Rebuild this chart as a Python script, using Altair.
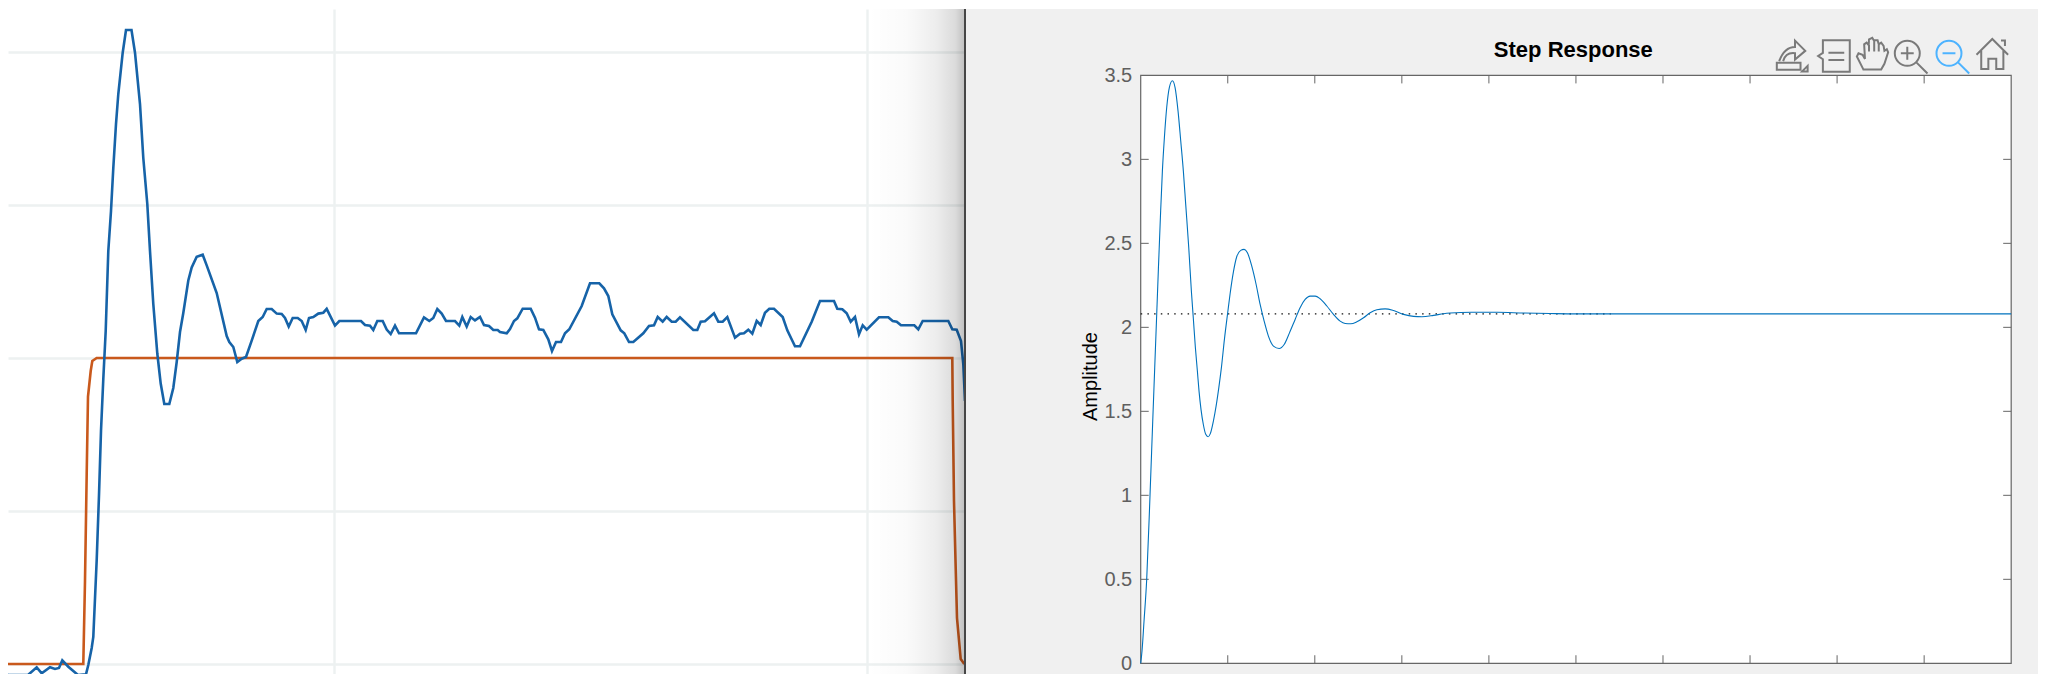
import altair as alt
import pandas as pd

# ---------- left panel: sampled response, x in samples, y in counts above baseline ----------
blue_xy = [
(0,-11),(4,-9),(8,-11),(28,-11),(36.7,-3.3),(41.7,-9.3),(50,-3.3),(55,-5),(59,-4),(62.3,3.7),(68.3,-2.7),(78,-11),(86,-10.3),(88.3,-1),(91.7,16),
(93.3,27),(96.7,104),(99,169),(101,233),(103.3,285),(104.7,313),(105.7,333),(108.3,413),(111,453),(113.3,496),(116,540),(118.3,570),(122.7,611.3),(126,634),(131.5,634),
(135,611.3),(140,560),(143.3,506),(147.3,460),(150,413),(153.3,360),(157.3,310.5),(160.7,280.4),(164.3,260),(169.3,260),(173.3,276),(176.7,302),(180,332),(183.3,351),(188.3,383.5),(191.7,396.5),(196.7,407.2),(202.7,409.3),
(206.7,398.6),(216.7,371),(226.7,328),(229.3,322),(233.3,317),(237.3,302),(241.7,305.3),(246,307),(251.7,323.4),(258.3,343),(262.7,347),(266.7,355),(271.7,355),(276.7,350.4),(281.7,350),(285,346),(288.7,337.5),(292.7,346),(297.7,346),(301.7,343),(305.7,334),(309,346),(313.3,347),(318.3,350.4),(323.3,351.3),(326.7,355.2),(335,338.4),(339.3,343),(361,343),(365,339),(370,338.4),(373.3,334),(377.3,343),(382.7,343),(386.7,334.5),(390.7,330),(395,338.4),(399,330.7),(416,330.7),(424,346.6),(429.3,343),(433.3,346),(437.3,355),(441.7,350.4),(446,343),(455,343),(459.3,338.4),(462.3,347),(466.7,337.5),(470.7,347),(475,343.6),(480,347),(484,339),(489,338),(493.3,334),(497.7,334),(500,332),
(506.7,330.7),(510,335),(514,343),(517.3,345.7),(522.7,355.3),(530.7,355.3),(535,346.3),(539,334.7),(543.3,334),(548.3,324.7),(552,313),(556,322),(561,322),(565,330.7),(569.3,334.7),(581.7,358),(590,380.7),(599.3,380.7),(604,375.7),(608.3,368),(612.3,349.7),(620.7,333.7),(624.3,330.7),(629,322),(633.3,322),(643.3,330.7),(649,338),(654,338.7),(657.7,347),(662.7,342.3),(666.7,347),(671.7,342.3),(675.7,342.3),(680,346.7),(693.3,334),(697.3,334),(700.7,342.3),(705,342.7),(714,350.7),(718.3,342.3),(722.7,342.3),(727.3,347),(735,326.3),(740,330.3),(744,330.7),(748.3,334.3),(752.3,330.3),(756.7,343),(760.7,339),(765,351.3),(769.3,355.3),(774,355.3),(782.7,347),(787.3,333.7),(795,317.7),(800,317.7),(811.7,342.3),(820,363),(834,363),(837.3,355.3),(842.3,354.7),(846.7,350.7),(850.7,342.3),(855,347),(859,329.7),(862.7,338.7),(866.7,334.3),(879,346.7),(888.3,346.7),(892.7,343),(896.7,342.3),(901,338.7),(914.3,338.7),(918.3,334.7),(922.7,343),(948.3,343),(952.3,334.7),(956.7,334.3),(961,323),(963.3,300),(965,263)]
orange_xy = [(0,0),(83.3,0),(85,83),(86.7,190),(88,267.5),(90.7,293),(92.3,303),(96.7,306),(952.3,306),(952.7,263),(954,163),(955.7,96),(957,46),(960.7,5),(964.3,0)]
left_grid_x = [334, 867]
left_grid_y = [0, 153, 306, 459, 612]
shade_x = [868]
shade_x2 = [965]
divider_x = [965]

# ---------- right panel: step response ----------
step_t = [0,.015,.038,.069,.107,.138,.161,.184,.203,.226,.249,.272,.299,.33,.364,.395,.429,.46,.49,.517,.552,.582,.605,.628,.651,.67,.693,.72,.747,.774,.801,.835,.866,.897,.927,.962,1.0,1.027,1.065,1.103,1.149,1.188,1.226,1.276,1.326,1.372,1.418,1.467,1.525,1.59,1.648,1.709,1.774,1.831,1.889,1.946,2.004,2.061,2.138,2.215,2.291,2.349,2.414,2.483,2.56,2.636,2.713,2.808,2.904,3.019,3.134,3.23,3.364,3.479,3.556,3.8,4.1,4.4,4.7,5,5.5,10]
step_v = [0,.073,.25,.5,1.0,1.44,1.76,2.08,2.345,2.652,2.93,3.129,3.31,3.43,3.468,3.427,3.287,3.109,2.93,2.732,2.474,2.216,2.05,1.88,1.74,1.62,1.51,1.42,1.363,1.349,1.369,1.442,1.531,1.64,1.76,1.93,2.09,2.2,2.33,2.42,2.458,2.464,2.444,2.364,2.255,2.136,2.037,1.948,1.888,1.874,1.898,1.967,2.047,2.117,2.166,2.186,2.186,2.17,2.127,2.077,2.037,2.023,2.021,2.033,2.057,2.087,2.105,2.11,2.1,2.077,2.065,2.063,2.071,2.081,2.085,2.09,2.09,2.085,2.082,2.08,2.08,2.08]
final_value = 2.08
final_end = 5.4
x_ticks = [0,1,2,3,4,5,6,7,8,9,10]
y_ticks = [0,.5,1,1.5,2,2.5,3,3.5]
title_text = "Step Response"
y_title = "Amplitude"

icon_x = [7.48, 7.964, 8.404, 8.838, 9.317, 9.783]
icon_y = [3.627, 3.615, 3.627, 3.615, 3.615, 3.627]
icon_sizes = [1000, 1000, 1050, 1350, 1350, 1000]
icon_paths = [
 "M-.95,.55 L.55,.55 L.55,1 L-.95,1 Z M-.8,.45 C-.6,-.1 -.3,-.45 .2,-.45 L.2,-.85 L.85,-.2 L.2,.35 L.2,-.05 C-.2,-.1 -.45,.1 -.55,.45 M1,.75 L1,1.1 L.65,1.1 Z",
 "M-.7,-1 L1,-1 L1,1 L-.7,1 L-.7,.2 L-1,0 L-.7,-.2 Z M-.35,-.2 L.65,-.2 M-.35,.25 L.65,.25",
 "M-.55,.95 L-.95,.15 L-.85,-.05 L-.6,.05 L-.45,.3 L-.5,-.6 L-.35,-.7 L-.22,-.55 L-.2,-.9 L0,-1 L.12,-.8 L.15,-.85 L.33,-.85 L.4,-.6 L.55,-.7 L.7,-.5 L.75,-.2 L.9,-.3 L.98,-.1 L.75,.6 L.55,.95 Z M-.2,-.55 L-.2,-.15 M.12,-.8 L.12,-.15 M.4,-.6 L.4,-.15",
 "M-.83,-.15 A.68,.68 0 1,1 .53,-.15 A.68,.68 0 1,1 -.83,-.15 M.33,.33 L.95,.95 M-.5,-.15 L.2,-.15 M-.15,-.5 L-.15,.2",
 "M-.83,-.15 A.68,.68 0 1,1 .53,-.15 A.68,.68 0 1,1 -.83,-.15 M.33,.33 L.95,.95 M-.5,-.15 L.2,-.15",
 "M-1,.05 L0,-.95 L1,.05 M-.7,-.2 L-.7,.95 L-.25,.95 L-.25,.3 L.25,.3 L.25,.95 L.7,.95 L.7,-.2 M.55,-.85 L.8,-.85 L.8,-.5",
]
icon_colors = ["#7a7a7a", "#7a7a7a", "#7a7a7a", "#7a7a7a", "#4db3ff", "#7a7a7a"]

FONT = "Liberation Sans"

# ---------- left panel ----------
lx = alt.Scale(domain=[8, 966], nice=False, zero=False)
ly = alt.Scale(domain=[-11, 655], nice=False, zero=False)
lx_axis = alt.Axis(values=left_grid_x, labels=False, ticks=False, domain=False, title=None, grid=True, gridColor="#edf1f1", gridWidth=2.4)
ly_axis = alt.Axis(values=left_grid_y, labels=False, ticks=False, domain=False, title=None, grid=True, gridColor="#edf1f1", gridWidth=2.4)
blue = pd.DataFrame(blue_xy, columns=["t", "v"])
orange = pd.DataFrame(orange_xy, columns=["t", "v"])
LX = lambda f: alt.X(f, scale=lx, axis=lx_axis)
LY = lambda f: alt.Y(f, scale=ly, axis=ly_axis)

orange_layer = alt.Chart(orange).mark_line(color="#c9591c", strokeWidth=2.6, clip=True).encode(
    x=LX("t:Q"), y=LY("v:Q"))
blue_layer = alt.Chart(blue).mark_line(color="#1663a8", strokeWidth=2.6, clip=True).encode(
    x=LX("t:Q"), y=LY("v:Q"), order="t:Q")
shade = alt.Chart(pd.DataFrame({"a": shade_x, "b": shade_x2})).mark_rect(
    color=alt.LinearGradient(gradient="linear", x1=0, x2=1, y1=0, y2=0, stops=[
        alt.GradientStop(offset=0, color="rgba(0,0,0,0)"),
        alt.GradientStop(offset=.4, color="rgba(0,0,0,0.02)"),
        alt.GradientStop(offset=.7, color="rgba(0,0,0,0.07)"),
        alt.GradientStop(offset=.9, color="rgba(0,0,0,0.14)"),
        alt.GradientStop(offset=1, color="rgba(0,0,0,0.25)"),
    ])).encode(x=LX("a:Q"), x2="b:Q")
divider = alt.Chart(pd.DataFrame({"a": divider_x})).mark_rule(color="#464646", strokeWidth=2).encode(
    x=LX("a:Q"))
left = alt.layer(orange_layer, blue_layer, shade, divider).properties(
    width=958, height=666, view=alt.ViewBackground(fill="#ffffff", stroke=None))

# ---------- right panel ----------
rx = alt.Scale(domain=[-2.007, 10.308], nice=False, zero=False)
ry = alt.Scale(domain=[-0.0696, 3.895], nice=False, zero=False)
ry_axis = alt.Axis(
    values=y_ticks, format="~g", offset=-174.7, domain=False, ticks=False, grid=False,
    labelFont=FONT, labelFontSize=20, labelColor="#5f5f5f", labelPadding=9,
    title=y_title, titleFont=FONT, titleFontSize=20, titleFontWeight="normal", titleColor="#000000",
    titleX=-50, titleY=367, titleBaseline="middle", titleAngle=270)
X = lambda f: alt.X(f, scale=rx, axis=None)
Y = lambda f: alt.Y(f, scale=ry, axis=ry_axis)

box = alt.Chart(pd.DataFrame({"a": [0], "b": [10], "c": [0], "d": [3.5]})).mark_rect(
    fill="#ffffff", stroke="#666666", strokeWidth=1.2).encode(
    x=X("a:Q"), x2="b:Q", y=Y("c:Q"), y2="d:Q")

tick_len_x, tick_len_y = 0.092, 0.048
ticks_df = pd.DataFrame(
    [{"a": t, "b": t, "c": 0, "d": tick_len_y} for t in x_ticks[1:-1]] +
    [{"a": t, "b": t, "c": 3.5, "d": 3.5 - tick_len_y} for t in x_ticks[1:-1]] +
    [{"a": 0, "b": tick_len_x, "c": v, "d": v} for v in y_ticks[1:-1]] +
    [{"a": 10, "b": 10 - tick_len_x, "c": v, "d": v} for v in y_ticks[1:-1]])
ticks = alt.Chart(ticks_df).mark_rule(color="#666666", strokeWidth=1).encode(
    x=X("a:Q"), x2="b:Q", y=Y("c:Q"), y2="d:Q")

dotted = alt.Chart(pd.DataFrame({"t": [0, final_end], "v": [final_value, final_value]})).mark_line(
    color="#111111", strokeWidth=1.3, strokeDash=[1.5, 5.2]).encode(x=X("t:Q"), y=Y("v:Q"))
curve = alt.Chart(pd.DataFrame({"t": step_t, "v": step_v})).mark_line(
    color="#0072BD", strokeWidth=1.1, interpolate="monotone").encode(x=X("t:Q"), y=Y("v:Q"))
title = alt.Chart(pd.DataFrame({"t": [4.97], "v": [3.65], "s": [title_text]})).mark_text(
    font=FONT, fontSize=22, fontWeight="bold", color="#000000", align="center", baseline="middle").encode(
    x=X("t:Q"), y=Y("v:Q"), text="s:N")
icons = [
    alt.Chart(pd.DataFrame({"t": [ix], "v": [iy]})).mark_point(
        shape=p, size=s, filled=False, stroke=c, strokeWidth=2, opacity=1).encode(x=X("t:Q"), y=Y("v:Q"))
    for ix, iy, p, c, s in zip(icon_x, icon_y, icon_paths, icon_colors, icon_sizes)
]
right = alt.layer(box, ticks, dotted, curve, title, *icons).properties(
    width=1072, height=666, view=alt.ViewBackground(fill="#f0f0f0", stroke=None))

chart = alt.hconcat(left, right, spacing=0, bounds="flush").properties(
    padding=0, background="#ffffff")
chart.save("out.html", embed_options={"renderer": "svg", "actions": False})
